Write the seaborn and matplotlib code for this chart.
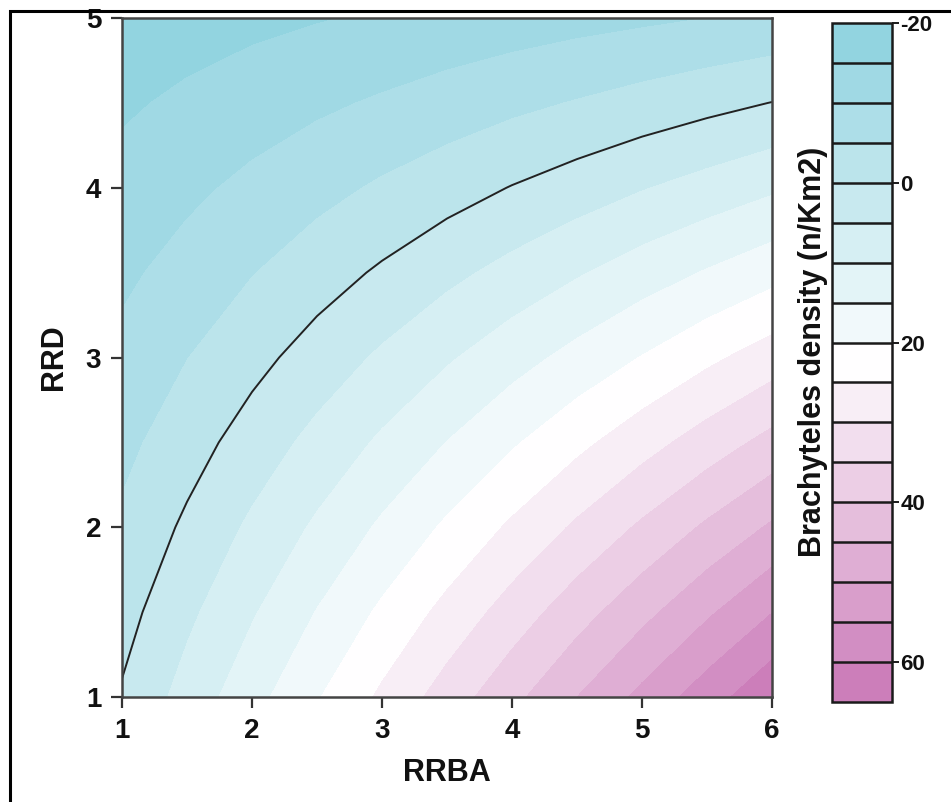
import numpy as np
import matplotlib
matplotlib.use('Agg')
import matplotlib.pyplot as plt
from matplotlib.patches import Rectangle
import seaborn as sns

# Density surface (0.5 step grid)
rrba = [1.0, 1.5, 2.0, 2.5, 3.0, 3.5, 4.0, 4.5, 5.0, 5.5, 6.0]
rrd = [1.0, 1.5, 2.0, 2.5, 3.0, 3.5, 4.0, 4.5, 5.0]
density = [
    [0.5, 6.9, 13.2, 19.6, 25.9, 32.3, 38.6, 45.0, 51.3, 57.7, 64.0],
    [-1.8, 3.9, 9.5, 15.2, 20.9, 26.5, 32.2, 37.9, 43.5, 49.2, 54.9],
    [-4.1, 0.9, 5.9, 10.8, 15.8, 20.8, 25.8, 30.8, 35.8, 40.8, 45.7],
    [-6.4, -2.1, 2.2, 6.5, 10.8, 15.1, 19.4, 23.7, 28.0, 32.3, 36.6],
    [-8.7, -5.1, -1.5, 2.1, 5.8, 9.4, 13.0, 16.6, 20.2, 23.9, 27.5],
    [-11.0, -8.1, -5.2, -2.2, 0.7, 3.7, 6.6, 9.5, 12.5, 15.4, 18.3],
    [-13.4, -11.1, -8.8, -6.6, -4.3, -2.1, 0.2, 2.4, 4.7, 6.9, 9.2],
    [-15.7, -14.1, -12.5, -10.9, -9.4, -7.8, -6.2, -4.7, -3.1, -1.5, 0.1],
    [-18.0, -17.1, -16.2, -15.3, -14.4, -13.5, -12.6, -11.7, -10.9, -10.0, -9.1],
]
fill_levels = list(range(-20, 70, 5))
line_levels = [0]
cbar_ticks = [-20, 0, 20, 40, 60]


def plot_surface(outpath='out.png'):
    sns.set_style('ticks')
    plt.rcParams['font.family'] = ['Liberation Sans', 'DejaVu Sans']
    plt.rcParams['font.weight'] = 'bold'
    plt.rcParams['axes.unicode_minus'] = False
    plt.rcParams['text.color'] = '#111111'
    plt.rcParams['axes.labelcolor'] = '#111111'
    plt.rcParams['xtick.labelcolor'] = '#111111'
    plt.rcParams['ytick.labelcolor'] = '#111111'

    cmap = sns.blend_palette(['#8cd1de', '#ffffff', '#c977b6'], as_cmap=True)

    fig = plt.figure(figsize=(9.51, 8.02), dpi=100)
    ax = fig.add_axes([0.1283, 0.1309, 0.6835, 0.8466])
    cax = fig.add_axes([0.8749, 0.1247, 0.0631, 0.8466])

    X, Y = np.meshgrid(rrba, rrd)
    Z = np.array(density)
    cf = ax.contourf(X, Y, Z, levels=fill_levels, cmap=cmap,
                     vmin=fill_levels[0], vmax=fill_levels[-1])
    ax.contour(X, Y, Z, levels=line_levels, colors='#222222', linewidths=1.4)

    ax.set_xlim(1, 6)
    ax.set_ylim(1, 5)
    ax.set_xticks([1, 2, 3, 4, 5, 6])
    ax.set_yticks([1, 2, 3, 4, 5])
    ax.tick_params(axis='both', direction='out', length=8, width=1.6,
                   color='#333333', labelsize=20, pad=7)
    for s in ax.spines.values():
        s.set_color('#444444')
        s.set_linewidth(1.8)
    ax.set_xlabel('RRBA', fontsize=22, fontweight='bold', labelpad=10)
    ax.set_ylabel('RRD', fontsize=22, fontweight='bold', labelpad=12)

    cbar = fig.colorbar(cf, cax=cax, ticks=cbar_ticks)
    cax.invert_yaxis()
    # black separators between the colour bins
    for lev in fill_levels[1:-1]:
        cax.axhline(lev, color='#1a1a1a', linewidth=1.8)
    cbar.outline.set_edgecolor('#1a1a1a')
    cbar.outline.set_linewidth(1.8)
    cax.tick_params(axis='y', direction='out', length=5, width=1.4,
                    color='#1a1a1a', labelsize=16, pad=1)
    cax.yaxis.set_label_position('left')
    cbar.set_label('Brachyteles density (n/Km2)', fontsize=22, fontweight='bold')
    cax.yaxis.set_label_coords(-0.06, 0.515)

    # outer frame around the figure
    fig.patches.append(Rectangle((10 / 951, -0.2), 1.5, 1.2 - 10.5 / 802,
                                 transform=fig.transFigure, fill=False,
                                 edgecolor='black', linewidth=2.2))

    fig.savefig(outpath, dpi=100)


plot_surface()
